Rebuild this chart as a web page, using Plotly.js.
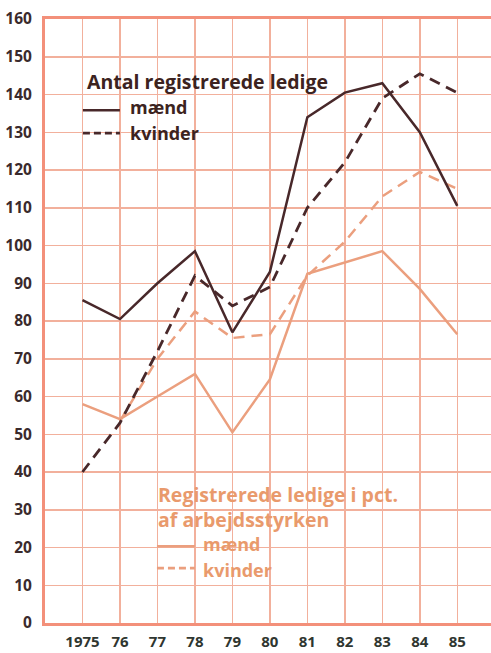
<!DOCTYPE html>
<html><head><meta charset="utf-8">
<script src="https://cdn.plot.ly/plotly-3.0.1.min.js"></script>
<style>html,body{margin:0;padding:0;background:#fff;}#chart{width:491px;height:653px;}</style>
</head><body><div id="chart"></div>
<script>
// Data
const years = ['1975','76','77','78','79','80','81','82','83','84','85'];
const antalMaend = [85.5, 80.5, 90, 98.5, 77, 93, 134, 140.5, 143, 130, 110.5];
const antalKvinder = [40, 53, 72, 92, 84, 89, 110, 122, 139, 145.5, 140.5];
const pctMaend = [58, 54, 60, 66, 50.5, 64.5, 92.5, 95.5, 98.5, 88.5, 76.5];
const pctKvinder = [null, 53.5, 70, 82.5, 75.5, 76.5, 92, 101, 113, 119.5, 115];
const yTicks = [0,10,20,30,40,50,60,70,80,90,100,110,120,130,140,150,160];

const dark = '#48282a';
const light = '#eb9f7e';
const grid = '#f2b09c';
const axisCol = '#f3907a';
const fontFam = '"Open Sans", "Noto Sans", sans-serif';

const traces = [
  {x: years, y: pctMaend, type: 'scatter', mode: 'lines', line: {color: light, width: 2.5}},
  {x: years, y: pctKvinder, type: 'scatter', mode: 'lines', line: {color: light, width: 2.5, dash: '11px,7px'}},
  {x: years, y: antalKvinder, type: 'scatter', mode: 'lines', line: {color: dark, width: 2.8, dash: '11px,7px'}},
  {x: years, y: antalMaend, type: 'scatter', mode: 'lines', line: {color: dark, width: 2.5}}
];

const darkTitle = {family: fontFam, size: 19.5, color: '#3c2320', weight: 700};
const lightTitle = {family: fontFam, size: 19.5, color: '#e99a6c', weight: 700};
const darkText = {family: fontFam, size: 18, color: '#3c2320', weight: 700};
const lightText = {family: fontFam, size: 18, color: '#e99a6c', weight: 700};

const layout = {
  width: 491, height: 653,
  margin: {l: 45, r: 0, t: 19, b: 30, pad: 0},
  paper_bgcolor: '#ffffff', plot_bgcolor: '#ffffff',
  showlegend: false,
  xaxis: {
    type: 'category', range: [-1, 10.9],
    showgrid: true, gridcolor: grid, gridwidth: 1.5,
    showline: true, mirror: true, linecolor: axisCol, linewidth: 3,
    zeroline: false, ticks: '', ticklabelstandoff: 3,
    tickfont: {family: fontFam, size: 15, color: '#2f3630', weight: 700}
  },
  yaxis: {
    range: [0, 160], tickvals: yTicks,
    showgrid: true, gridcolor: grid, gridwidth: 1.5,
    showline: true, linecolor: axisCol, linewidth: 3,
    zeroline: false, ticks: '', ticklabelstandoff: 7,
    tickfont: {family: fontFam, size: 15.5, color: '#3a2a2c', weight: 700}
  },
  annotations: [
    {xref: 'paper', yref: 'paper', x: 0.09, y: 0.896, xanchor: 'left', yanchor: 'middle', showarrow: false, text: 'Antal registrerede ledige', font: darkTitle},
    {xref: 'paper', yref: 'paper', x: 0.186, y: 0.855, xanchor: 'left', yanchor: 'middle', showarrow: false, text: 'mænd', font: darkText},
    {xref: 'paper', yref: 'paper', x: 0.186, y: 0.811, xanchor: 'left', yanchor: 'middle', showarrow: false, text: 'kvinder', font: darkText},
    {xref: 'paper', yref: 'paper', x: 0.248, y: 0.212, xanchor: 'left', yanchor: 'middle', showarrow: false, text: 'Registrerede ledige i pct.', font: lightTitle},
    {xref: 'paper', yref: 'paper', x: 0.248, y: 0.172, xanchor: 'left', yanchor: 'middle', showarrow: false, text: 'af arbejdsstyrken', font: lightTitle},
    {xref: 'paper', yref: 'paper', x: 0.35, y: 0.130, xanchor: 'left', yanchor: 'middle', showarrow: false, text: 'mænd', font: lightText},
    {xref: 'paper', yref: 'paper', x: 0.35, y: 0.088, xanchor: 'left', yanchor: 'middle', showarrow: false, text: 'kvinder', font: lightText}
  ],
  shapes: [
    {type: 'line', xref: 'paper', yref: 'paper', x0: 0.085, x1: 0.168, y0: 0.849, y1: 0.849, line: {color: dark, width: 2.5}},
    {type: 'line', xref: 'paper', yref: 'paper', x0: 0.085, x1: 0.168, y0: 0.811, y1: 0.811, line: {color: dark, width: 2.8, dash: '7px,4px'}},
    {type: 'line', xref: 'paper', yref: 'paper', x0: 0.251, x1: 0.336, y0: 0.127, y1: 0.127, line: {color: light, width: 2.5}},
    {type: 'line', xref: 'paper', yref: 'paper', x0: 0.251, x1: 0.336, y0: 0.091, y1: 0.091, line: {color: light, width: 2.8, dash: '7px,4px'}}
  ]
};

Plotly.newPlot('chart', traces, layout, {staticPlot: true, displayModeBar: false});
</script>
</body></html>
